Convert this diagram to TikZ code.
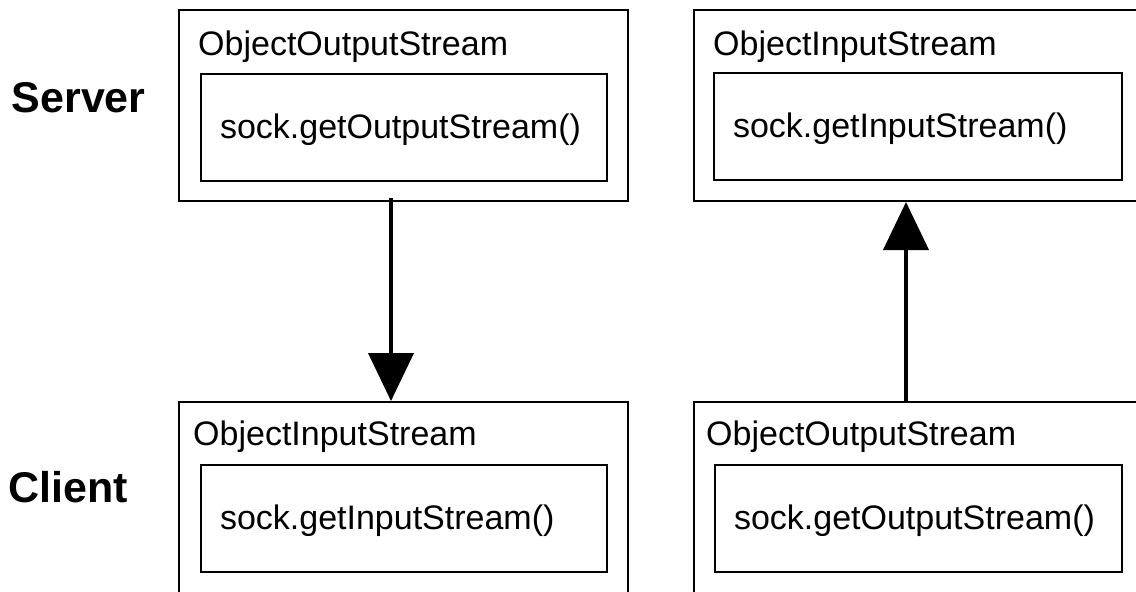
\documentclass[tikz,border=0pt]{standalone}
\usepackage{fontspec}
\setmainfont{Liberation Sans}
\usepackage{tikz}
\usetikzlibrary{arrows.meta}
\tikzset{
  box/.style={draw,line width=2pt,inner sep=0pt},
  sockbox/.style={box,minimum height=107pt,text width=368pt,text depth=2pt,inner xsep=19pt,align=left,font=\fontsize{34}{40}\selectfont},
  title/.style={anchor=base west,inner sep=0pt,font=\fontsize{34}{40}\selectfont},
  side/.style={anchor=base west,inner sep=0pt,font=\fontsize{43}{48}\selectfont\bfseries},
  flow/.style={line width=4pt,-{Triangle[length=48pt,width=45pt]}}
}

\begin{document}
\begin{tikzpicture}[x=1pt,y=-1pt]
\clip (0,0) rectangle (1136,592);
% server side
\node[side] (server) at (11.5,112) {Server};
\node[box,minimum width=449pt,minimum height=191pt] (srvOut) at (403.5,105.5) {};
\node[title] (srvOutT) at (198,55) {ObjectOutputStream};
\node[sockbox] (srvOutSock) at (404,127.5) {sock.getOutputStream()};
\node[box,minimum width=448pt,minimum height=191pt] (srvIn) at (918,105.5) {};
\node[title] (srvInT) at (713,55) {ObjectInputStream};
\node[sockbox,text width=370pt] (srvInSock) at (918,126.5) {sock.getInputStream()};
% client side
\node[side] (client) at (8,502) {Client};
\node[box,minimum width=449pt,minimum height=191pt] (cliIn) at (403.5,497.5) {};
\node[title] (cliInT) at (193,445) {ObjectInputStream};
\node[sockbox] (cliInSock) at (404,518.5) {sock.getInputStream()};
\node[box,minimum width=448pt,minimum height=191pt] (cliOut) at (918,497.5) {};
\node[title] (cliOutT) at (706,445) {ObjectOutputStream};
\node[sockbox,text width=369pt] (cliOutSock) at (918.5,518.5) {sock.getOutputStream()};
% streams
\draw[flow] ([xshift=-12.5pt,yshift=4pt]srvOut.south) -- ([xshift=-12.5pt]cliIn.north);
\draw[flow] ([xshift=-12pt]cliOut.north) -- ([xshift=-12pt]srvIn.south);
\end{tikzpicture}
\end{document}
